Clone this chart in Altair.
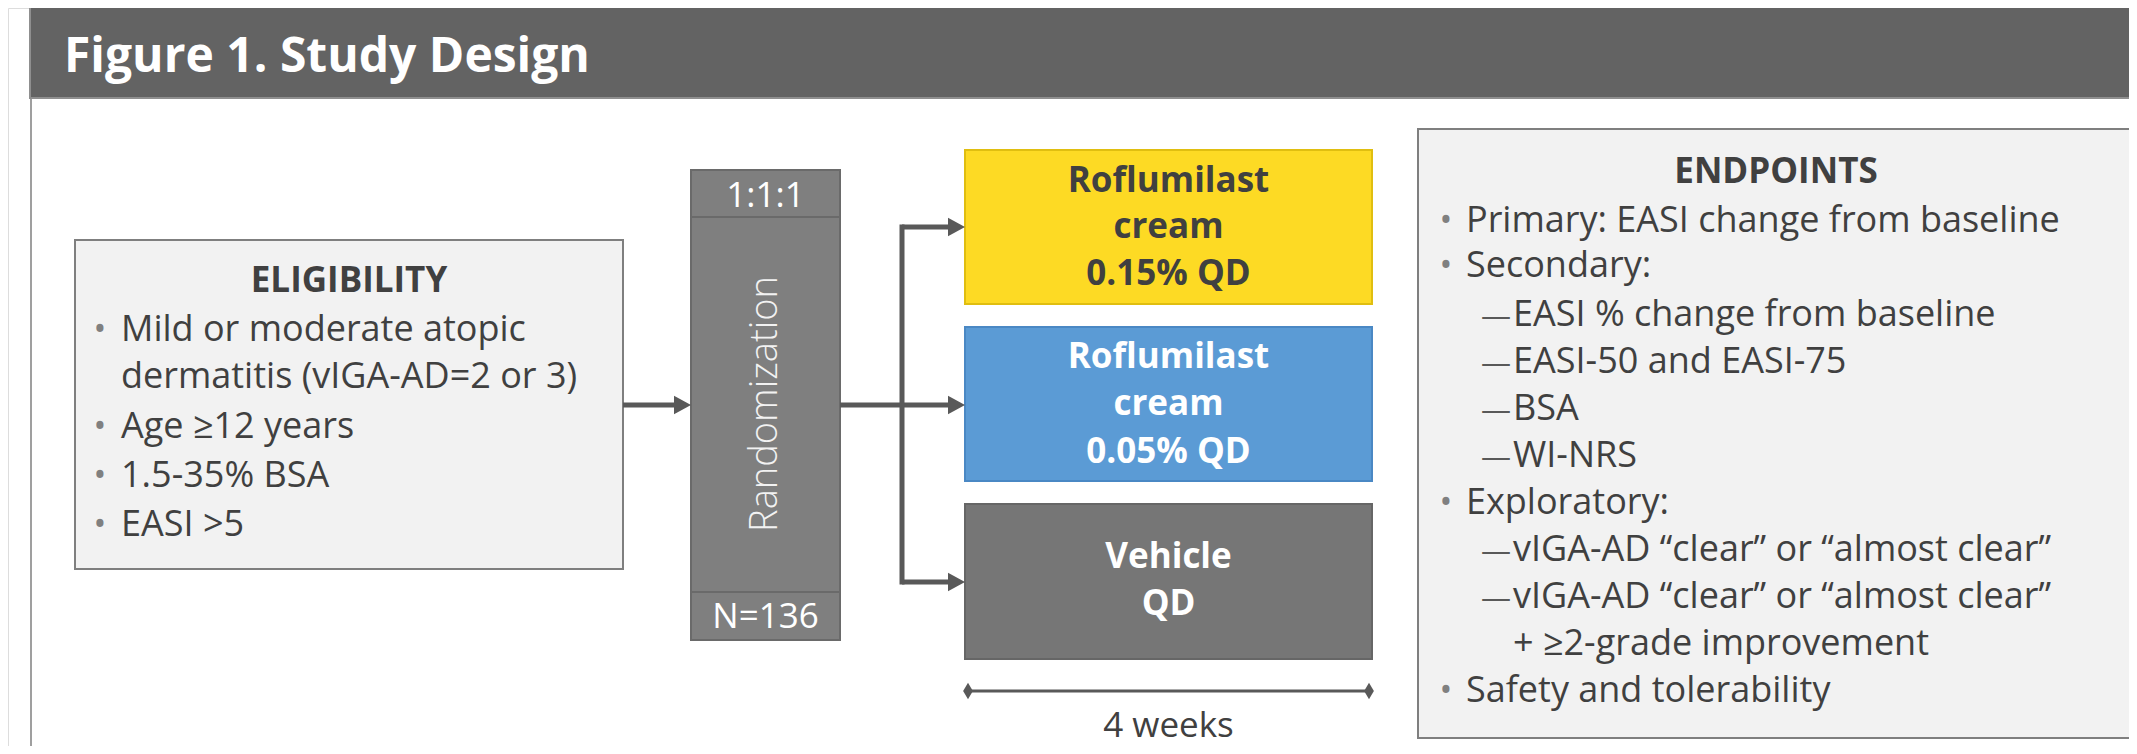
import altair as alt
import pandas as pd

# ---------------- page geometry ----------------
W, H, M = 2137, 754, 8
FONT = "Open Sans"
DARK = "#404040"
GREY = "#595959"

# ---------------- text content ----------------
TITLE = "Figure 1. Study Design"
ELIG_HEAD = "ELIGIBILITY"
ELIG_LINES = ["Mild or moderate atopic", "dermatitis (vIGA-AD=2 or 3)",
              "Age \u226512 years", "1.5-35% BSA", "EASI >5"]
ELIG_BULLET = [True, False, True, True, True]
RAND_TOP = "1:1:1"
RAND_MID = "Randomization"
RAND_BOT = "N=136"
ARM_LINES = [["Roflumilast", "cream", "0.15% QD"],
             ["Roflumilast", "cream", "0.05% QD"],
             ["Vehicle", "QD"]]
ARM_FILL = ["#FDDA24", "#5B9BD5", "#767676"]
ARM_STROKE = ["#E0BE10", "#4A88C4", "#666666"]
ARM_TEXT = [DARK, "#FFFFFF", "#FFFFFF"]
DURATION = "4 weeks"
END_HEAD = "ENDPOINTS"
END_LINES = ["Primary: EASI change from baseline", "Secondary:",
             "EASI % change from baseline", "EASI-50 and EASI-75", "BSA", "WI-NRS",
             "Exploratory:",
             "vIGA-AD \u201cclear\u201d or \u201calmost clear\u201d",
             "vIGA-AD \u201cclear\u201d or \u201calmost clear\u201d",
             "+ \u22652-grade improvement",
             "Safety and tolerability"]
END_LEVEL = [0, 0, 1, 1, 1, 1, 0, 1, 1, 2, 0]   # 0 bullet, 1 dash, 2 continuation

# ---------------- layout (page pixels) ----------------
TITLE_BAR = (30, 7, 2140, 98)
TITLE_POS = (64, 72)
FRAME_X = 31
ELIG_BOX = (75, 240, 623, 569)
ELIG_HEAD_Y = 292
ELIG_Y = [341, 388, 438, 487, 536]
ELIG_BUL_X, ELIG_TXT_X = 100, 121
RAND_X = (691, 840)
RAND_Y = [170, 217, 592, 640]
RAND_TOP_Y, RAND_BOT_Y, RAND_MID_Y = 207, 628, 404
ARM_X = (965, 1372)
ARM_Y = [(150, 304), (327, 481), (504, 659)]
ARM_TXT_Y = [[192, 238, 285], [368, 415, 463], [568, 615]]
MAIN_Y = 405
BRANCH_X = 902
ARM_ARROW_Y = [227, 405, 582]
TIME_Y, TIME_TXT_Y = 691, 737
END_BOX = (1418, 129, 2134, 738)
END_HEAD_Y = 183
END_Y = [232, 277, 326, 373, 420, 467, 514, 561, 608, 655, 702]
END_BUL_X, END_TXT_X, END_DASH_X, END_SUB_X = 1446, 1466, 1481, 1513
HEAD = 17  # arrow head length

XS = alt.Scale(domain=[M, W - M], nice=False, zero=False)
YS = alt.Scale(domain=[M, H - M], nice=False, zero=False, reverse=True)


def ex(f="x"):
    return alt.X(f"{f}:Q", scale=XS, axis=None)


def ey(f="y"):
    return alt.Y(f"{f}:Q", scale=YS, axis=None)


# ---------------- rectangles ----------------
rects = [dict(x=TITLE_BAR[0], y=TITLE_BAR[1], x2=TITLE_BAR[2], y2=TITLE_BAR[3], f="#636363", s="#8f8f8f"),
         dict(x=ELIG_BOX[0], y=ELIG_BOX[1], x2=ELIG_BOX[2], y2=ELIG_BOX[3], f="#F2F2F2", s="#7F7F7F"),
         dict(x=END_BOX[0], y=END_BOX[1], x2=END_BOX[2], y2=END_BOX[3], f="#F2F2F2", s="#7F7F7F")]
for i in range(3):
    rects.append(dict(x=RAND_X[0], y=RAND_Y[i], x2=RAND_X[1], y2=RAND_Y[i + 1], f="#7F7F7F", s="#6A6A6A"))
for i in range(3):
    rects.append(dict(x=ARM_X[0], y=ARM_Y[i][0], x2=ARM_X[1], y2=ARM_Y[i][1], f=ARM_FILL[i], s=ARM_STROKE[i]))
rect_layer = alt.Chart(pd.DataFrame(rects)).mark_rect(strokeWidth=2).encode(
    x=ex(), y=ey(), x2="x2:Q", y2="y2:Q",
    fill=alt.Fill("f:N", scale=None), stroke=alt.Stroke("s:N", scale=None))

frame = alt.Chart(pd.DataFrame([dict(x=FRAME_X, y=TITLE_BAR[3], y2=H + 10)])).mark_rule(
    color="#7F7F7F", strokeWidth=1.5).encode(x=ex(), y=ey(), y2="y2:Q")

# ---------------- arrows ----------------
segs = [dict(x=ELIG_BOX[2], x2=RAND_X[0] - HEAD + 1, y=MAIN_Y, y2=MAIN_Y),
        dict(x=RAND_X[1], x2=ARM_X[0] - HEAD + 1, y=MAIN_Y, y2=MAIN_Y),
        dict(x=BRANCH_X, x2=BRANCH_X, y=ARM_ARROW_Y[0] - 2.5, y2=ARM_ARROW_Y[2] + 2.5)]
for ay in (ARM_ARROW_Y[0], ARM_ARROW_Y[2]):
    segs.append(dict(x=BRANCH_X, x2=ARM_X[0] - HEAD + 1, y=ay, y2=ay))
arrow_lines = alt.Chart(pd.DataFrame(segs)).mark_rule(color=GREY, strokeWidth=5, strokeCap="butt").encode(
    x=ex(), x2="x2:Q", y=ey(), y2="y2:Q")

heads = [dict(x=RAND_X[0] - HEAD / 2, y=MAIN_Y)] + [dict(x=ARM_X[0] - HEAD / 2, y=ay) for ay in ARM_ARROW_Y]
arrow_heads = alt.Chart(pd.DataFrame(heads)).mark_point(
    shape="M1,0L-1,-1.1L-1,1.1Z", filled=True, size=HEAD * HEAD, color=GREY, opacity=1).encode(x=ex(), y=ey())

# ---------------- timeline ----------------
time_line = alt.Chart(pd.DataFrame([dict(x=ARM_X[0], x2=ARM_X[1], y=TIME_Y)])).mark_rule(
    color=GREY, strokeWidth=3).encode(x=ex(), x2="x2:Q", y=ey())
time_ends = alt.Chart(pd.DataFrame([dict(x=ARM_X[0] + 3, y=TIME_Y), dict(x=ARM_X[1] - 3, y=TIME_Y)])).mark_point(
    shape="M0,-1.25L0.75,0L0,1.25L-0.75,0Z", filled=True, size=170, color=GREY, opacity=1).encode(x=ex(), y=ey())

# ---------------- texts ----------------
title = alt.Chart(pd.DataFrame([dict(x=TITLE_POS[0], y=TITLE_POS[1], t=TITLE)])).mark_text(
    font=FONT, fontSize=48, fontWeight="bold", color="#FFFFFF", align="left", baseline="alphabetic").encode(
    x=ex(), y=ey(), text="t:N")

bold_rows = [dict(x=(ELIG_BOX[0] + ELIG_BOX[2]) / 2, y=ELIG_HEAD_Y, t=ELIG_HEAD, c=DARK),
             dict(x=(END_BOX[0] + END_BOX[2]) / 2, y=END_HEAD_Y, t=END_HEAD, c=DARK)]
for i, lines in enumerate(ARM_LINES):
    for j, line in enumerate(lines):
        bold_rows.append(dict(x=(ARM_X[0] + ARM_X[1]) / 2, y=ARM_TXT_Y[i][j], t=line, c=ARM_TEXT[i]))
bold_text = alt.Chart(pd.DataFrame(bold_rows)).mark_text(
    font=FONT, fontSize=35, fontWeight="bold", align="center", baseline="alphabetic").encode(
    x=ex(), y=ey(), text="t:N", color=alt.Color("c:N", scale=None))

center_rows = [dict(x=sum(RAND_X) / 2, y=RAND_TOP_Y, t=RAND_TOP, c="#FFFFFF"),
               dict(x=sum(RAND_X) / 2, y=RAND_BOT_Y, t=RAND_BOT, c="#FFFFFF"),
               dict(x=sum(ARM_X) / 2, y=TIME_TXT_Y, t=DURATION, c=DARK)]
center_text = alt.Chart(pd.DataFrame(center_rows)).mark_text(
    font=FONT, fontSize=35, align="center", baseline="alphabetic").encode(
    x=ex(), y=ey(), text="t:N", color=alt.Color("c:N", scale=None))

rand_text = alt.Chart(pd.DataFrame([dict(x=sum(RAND_X) / 2, y=RAND_MID_Y, t=RAND_MID)])).mark_text(
    font=FONT, fontSize=38, fontWeight=300, color="#F2F2F2", angle=270, align="center", baseline="middle").encode(
    x=ex(), y=ey(), text="t:N")

body_rows, bullet_rows, dash_rows = [], [], []
for line, b, yy in zip(ELIG_LINES, ELIG_BULLET, ELIG_Y):
    body_rows.append(dict(x=ELIG_TXT_X, y=yy, t=line))
    if b:
        bullet_rows.append(dict(x=ELIG_BUL_X, y=yy, t="\u2022"))
for line, lv, yy in zip(END_LINES, END_LEVEL, END_Y):
    if lv == 0:
        body_rows.append(dict(x=END_TXT_X, y=yy, t=line))
        bullet_rows.append(dict(x=END_BUL_X, y=yy, t="\u2022"))
    else:
        body_rows.append(dict(x=END_SUB_X, y=yy, t=line))
        if lv == 1:
            dash_rows.append(dict(x=END_DASH_X, y=yy, t="\u2014"))

body_text = alt.Chart(pd.DataFrame(body_rows)).mark_text(
    font=FONT, fontSize=36, color=DARK, align="left", baseline="alphabetic").encode(
    x=ex(), y=ey(), text="t:N")
bullet_text = alt.Chart(pd.DataFrame(bullet_rows)).mark_text(
    font=FONT, fontSize=34, color="#808080", align="center", baseline="alphabetic").encode(
    x=ex(), y=ey(), text="t:N")
dash_text = alt.Chart(pd.DataFrame(dash_rows)).mark_text(
    font=FONT, fontSize=30, color=GREY, align="left", baseline="alphabetic").encode(
    x=ex(), y=ey(), text="t:N")

chart = alt.layer(
    frame, rect_layer, arrow_lines, arrow_heads, time_line, time_ends,
    title, bold_text, center_text, rand_text, body_text, bullet_text, dash_text
).properties(
    width=W - 2 * M, height=H - 2 * M, padding=0,
    autosize=alt.AutoSizeParams(type="none")
).configure_view(stroke=None).configure(background="#FFFFFF")

chart.save("out.html", embed_options={"renderer": "svg", "actions": False})
